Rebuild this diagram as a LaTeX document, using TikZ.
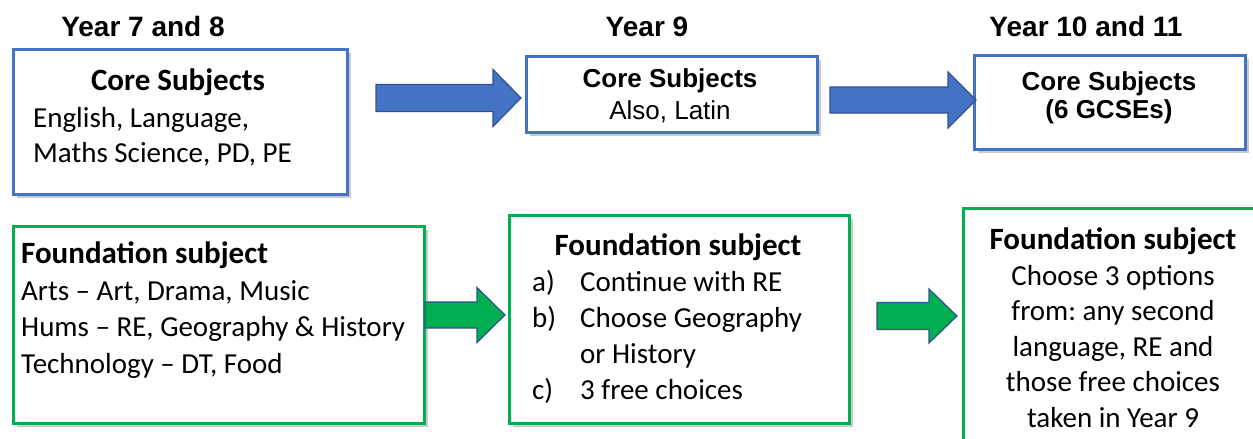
\documentclass[tikz,border=0pt]{standalone}
\usepackage{fontspec}
\setmainfont{Carlito}
\newfontfamily\arialfont{Liberation Sans}
\usepackage{tikz}
\usetikzlibrary{calc,shadows}
\definecolor{coreblue}{HTML}{4472C4}
\definecolor{arrowedge}{HTML}{2F528F}
\definecolor{foundgreen}{HTML}{00B050}
\frenchspacing
\tikzset{
    boxshadow/.style={drop shadow={shadow xshift=4pt,shadow yshift=-4pt,fill=black!35,opacity=0.6}},
    corebox/.style={rectangle,draw=coreblue,line width=2.5pt,fill=white,inner sep=0pt,anchor=north west,boxshadow},
    foundbox/.style={rectangle,draw=foundgreen,line width=2.5pt,fill=white,inner sep=0pt,anchor=north west,boxshadow},
    bluearrow/.style={fill=coreblue,draw=arrowedge,line width=1.2pt,line join=miter},
    greenarrow/.style={fill=foundgreen,draw=arrowedge,line width=1.2pt,line join=miter},
    yearlabel/.style={anchor=base,inner sep=0pt,font=\arialfont\bfseries\fontsize{28}{32}\selectfont},
    arialtext/.style={inner sep=0pt,align=center,font=\arialfont\fontsize{26}{#1}\selectfont},
    calitext/.style={inner sep=0pt,font=\fontsize{29}{#1}\selectfont}
}
% block arrow: style, tail, tip, half shaft, half head, head length
\newcommand{\blockarrow}[6]{%
    \draw[#1] ($(#2)+(0,-#4)$) -- ($(#3)+(-#6,-#4)$) -- ($(#3)+(-#6,-#5)$) -- (#3)
        -- ($(#3)+(-#6,#5)$) -- ($(#3)+(-#6,#4)$) -- ($(#2)+(0,#4)$) -- cycle;
}

\begin{document}
\begin{tikzpicture}[x=1pt,y=-1pt]
    \useasboundingbox (0,0) rectangle (1253,439);
    \clip (0,0) rectangle (1253,439);

    % year headings
    \node[yearlabel] (y78) at (143,36) {Year 7 and 8};
    \node[yearlabel] (y9) at (647,36) {Year 9};
    \node[yearlabel] (y1011) at (1086,36) {Year 10 and 11};

    % core subjects (multi-line texts sit on their last baseline)
    \node[corebox,minimum width=334pt,minimum height=145pt] (core78) at (12,48) {};
    \node[corebox,minimum width=291pt,minimum height=76pt] (core9) at (525,55) {};
    \node[corebox,minimum width=271pt,minimum height=94pt] (core1011) at (973,54) {};

    \node[anchor=base,inner sep=0pt,font=\bfseries\fontsize{31}{36}\selectfont] (core78head) at (178,90) {Core Subjects};
    \node[calitext=35,anchor=base west,align=left] (core78list) at (33,162) {English, Language,\\Maths Science, PD, PE};
    \node[arialtext=31.5,anchor=base] (core9text) at (670,119) {\bfseries Core Subjects\\Also, Latin};
    \node[arialtext=27.5,anchor=base] (core1011text) at (1109,118) {\bfseries Core Subjects\\\bfseries(6 GCSEs)};

    % foundation subjects
    \node[foundbox,minimum width=411pt,minimum height=197pt] (found78) at (12,225) {};
    \node[foundbox,minimum width=340pt,minimum height=208pt] (found9) at (508,214) {};
    \node[foundbox,minimum width=320pt,minimum height=260pt] (found1011) at (962,207) {};

    \node[calitext=36.5,anchor=base west,align=left] (found78text) at (21,373)
        {{\bfseries\fontsize{31}{36}\selectfont Foundation subject}\\Arts -- Art, Drama, Music\\Hums -- RE, Geography \& History\\Technology -- DT, Food};
    \node[anchor=base,inner sep=0pt,font=\bfseries\fontsize{31}{36}\selectfont] (found9head) at (678,255) {Foundation subject};
    \node[calitext=36,anchor=base west,align=left] (found9list) at (532,399)
        {\makebox[48pt][l]{a)}Continue with RE\\\makebox[48pt][l]{b)}Choose Geography\\\hspace*{48pt}or History\\\makebox[48pt][l]{c)}3 free choices};
    \node[calitext=35.5,anchor=base,align=center] (found1011text) at (1113,427)
        {{\bfseries\fontsize{31}{36}\selectfont Foundation subject}\\Choose 3 options\\from: any second\\language, RE and\\those free choices\\taken in Year 9};

    % arrows between the years
    \coordinate (a1s) at (376,98);  \coordinate (a1e) at (521,98);
    \coordinate (a2s) at (830,100); \coordinate (a2e) at (976,100);
    \coordinate (g1s) at (425,315); \coordinate (g1e) at (505,315);
    \coordinate (g2s) at (877,316); \coordinate (g2e) at (957,316);
    \blockarrow{bluearrow}{a1s}{a1e}{13.5}{28.5}{28}
    \blockarrow{bluearrow}{a2s}{a2e}{13}{28}{28}
    \blockarrow{greenarrow}{g1s}{g1e}{13}{27.5}{28}
    \blockarrow{greenarrow}{g2s}{g2e}{13.5}{27}{28}
\end{tikzpicture}
\end{document}
